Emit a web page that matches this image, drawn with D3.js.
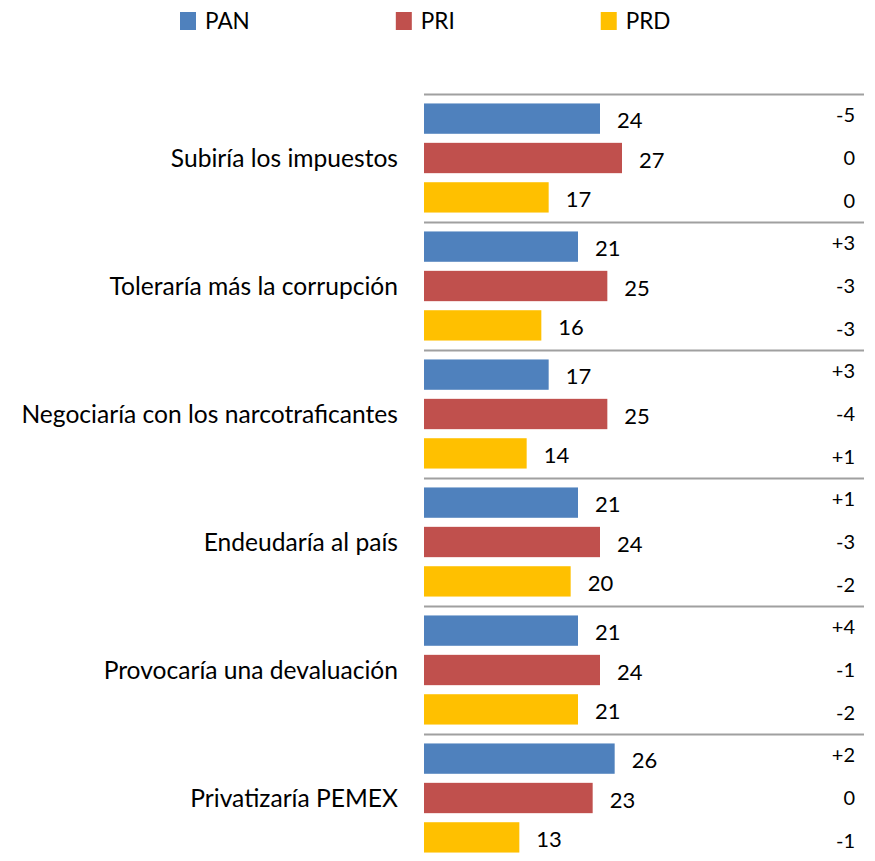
<!DOCTYPE html>
<html>
<head>
<meta charset="utf-8">
<script src="https://cdn.jsdelivr.net/npm/d3@7"></script>
<style>
  body { margin: 0; background: #fff; }
  text { font-family: Lato, "Open Sans", sans-serif; fill: #000; }
</style>
</head>
<body>
<div id="chart"></div>
<script>
var categories = ["Subiría los impuestos", "Toleraría más la corrupción", "Negociaría con los narcotraficantes",
  "Endeudaría al país", "Provocaría una devaluación", "Privatizaría PEMEX"];
var parties = ["PAN", "PRI", "PRD"];
var panValues = [24, 21, 17, 21, 21, 26];
var priValues = [27, 25, 25, 24, 24, 23];
var prdValues = [17, 16, 14, 20, 21, 13];
var panChange = ["-5", "+3", "+3", "+1", "+4", "+2"];
var priChange = ["0", "-3", "-4", "-3", "-1", "0"];
var prdChange = ["0", "-3", "+1", "-2", "-2", "-1"];

var colors = {PAN: "#4F81BD", PRI: "#C0504D", PRD: "#FFC000"};

var W = 875, H = 861;

var values = {PAN: panValues, PRI: priValues, PRD: prdValues};
var changes = {PAN: panChange, PRI: priChange, PRD: prdChange};

// flatten to rows
var rows = [];
categories.forEach(function(c, i) {
  parties.forEach(function(p) {
    rows.push({cat: c, party: p, value: values[p][i], change: changes[p][i]});
  });
});

var svg = d3.select("#chart").append("svg")
  .attr("width", W)
  .attr("height", H);

//scales
var x = d3.scaleLinear()
  .domain([0, 60])
  .range([424, 864]);
var y0 = d3.scaleBand()
  .domain(categories)
  .range([94, 862]);
var y1 = d3.scaleBand()
  .domain(parties)
  .range([0, y0.bandwidth()])
  .paddingInner(0.23)
  .paddingOuter(0.24);
var y2 = d3.scalePoint()   // right column, equal thirds
  .domain(parties)
  .range([0, y0.bandwidth()])
  .padding(0.5);

// separator lines
svg.append("g").selectAll("line")
  .data(categories)
  .enter().append("line")
  .attr("x1", x(0))
  .attr("x2", x(60))
  .attr("y1", function(d) { return y0(d) + 0.5; })
  .attr("y2", function(d) { return y0(d) + 0.5; })
  .attr("stroke", "#A0A0A0")
  .attr("stroke-width", 2);

// category labels
svg.append("g").selectAll("text")
  .data(categories)
  .enter().append("text")
  .attr("x", 398)
  .attr("y", function(d) { return y0(d) + y0.bandwidth() / 2; })
  .attr("dy", "0.35em")
  .attr("text-anchor", "end")
  .style("font-size", "24.6px")
  .text(function(d) { return d; });

// bars
svg.append("g").selectAll("rect")
  .data(rows)
  .enter().append("rect")
  .attr("x", x(0))
  .attr("y", function(d) { return y0(d.cat) + y1(d.party); })
  .attr("width", function(d) { return x(d.value) - x(0); })
  .attr("height", y1.bandwidth())
  .attr("fill", function(d) { return colors[d.party]; });

// value labels
svg.append("g").selectAll("text")
  .data(rows)
  .enter().append("text")
  .attr("x", function(d) { return x(d.value) + 17; })
  .attr("y", function(d) { return y0(d.cat) + y1(d.party) + y1.bandwidth() / 2 + 2; })
  .attr("dy", "0.35em")
  .style("font-size", "22px")
  .text(function(d) { return d.value; });

// change column
svg.append("g").selectAll("text")
  .data(rows)
  .enter().append("text")
  .attr("x", 855)
  .attr("y", function(d) { return y0(d.cat) + y2(d.party); })
  .attr("dy", "0.35em")
  .attr("text-anchor", "end")
  .style("font-size", "20px")
  .text(function(d) { return d.change; });

// legend
var legend = svg.append("g").attr("class", "legend");
var lx = 180;
parties.forEach(function(p) {
  legend.append("rect")
    .attr("x", lx)
    .attr("y", 12)
    .attr("width", 16)
    .attr("height", 18)
    .attr("fill", colors[p]);
  var t = legend.append("text")
    .attr("x", lx + 25)
    .attr("y", 29)
    .style("font-size", "22.5px")
    .text(p);
  lx += 25 + t.node().getComputedTextLength() + 146;
});
</script>
</body>
</html>
